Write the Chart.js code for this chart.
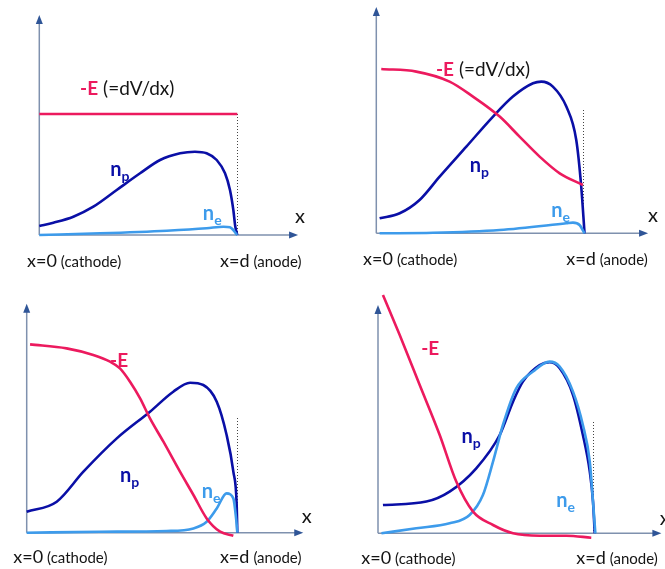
<!DOCTYPE html>
<html>
<head>
<meta charset="utf-8">
<script src="https://cdn.jsdelivr.net/npm/chart.js@4/dist/chart.umd.min.js"></script>
<style>
  html, body { margin: 0; padding: 0; background: #fff; }
  body { width: 665px; height: 569px; position: relative; overflow: hidden; }
  canvas { position: absolute; }
</style>
</head>
<body>
<canvas id="c1"></canvas>
<canvas id="c2"></canvas>
<canvas id="c3"></canvas>
<canvas id="c4"></canvas>
<script>
// ---------------- DATA (x in units of d, y in arbitrary relative units) ----------------
// Panel 1 (top-left): uniform field
const p1_E_x  = [0, 1];
const p1_E_y  = [1.21, 1.21];
const p1_np_x = [0, 0.071, 0.172, 0.273, 0.391, 0.509, 0.610, 0.711, 0.786, 0.845, 0.896, 0.938, 0.963, 0.980, 0.990, 1.0];
const p1_np_y = [0.09, 0.123, 0.183, 0.283, 0.45, 0.617, 0.75, 0.817, 0.833, 0.817, 0.75, 0.617, 0.45, 0.25, 0.083, 0];
const p1_ne_x = [0, 0.307, 0.644, 0.845, 0.930, 0.963, 0.980, 0.995, 1.0];
const p1_ne_y = [0, 0.017, 0.043, 0.067, 0.083, 0.077, 0.05, 0.01, 0];

// Panel 2 (top-right)
const p2_E_x  = [0.024, 0.193, 0.354, 0.467, 0.596, 0.692, 0.789, 0.886, 0.998];
const p2_E_y  = [1.643, 1.617, 1.517, 1.367, 1.167, 0.967, 0.767, 0.60, 0.483];
const p2_np_x = [0.016, 0.113, 0.209, 0.306, 0.435, 0.564, 0.660, 0.757, 0.797, 0.853, 0.918, 0.966, 0.990, 1.006];
const p2_np_y = [0.15, 0.20, 0.333, 0.567, 0.867, 1.167, 1.367, 1.50, 1.517, 1.467, 1.267, 0.933, 0.467, 0];
const p2_ne_x = [0.016, 0.274, 0.596, 0.918, 0.950, 0.982, 1.006];
const p2_ne_y = [0, 0.005, 0.033, 0.10, 0.107, 0.083, 0];

// Panel 3 (bottom-left)
const p3_E_x  = [0.016, 0.190, 0.317, 0.397, 0.444, 0.492, 0.540, 0.587, 0.651, 0.730, 0.794, 0.857, 0.921, 0.984];
const p3_E_y  = [1.883, 1.843, 1.777, 1.71, 1.643, 1.51, 1.343, 1.143, 0.91, 0.61, 0.377, 0.143, 0.01, -0.03];
const p3_np_x = [0, 0.143, 0.270, 0.429, 0.587, 0.698, 0.778, 0.841, 0.905, 0.952, 0.984, 1.0, 1.003];
const p3_np_y = [0.21, 0.31, 0.61, 0.943, 1.21, 1.41, 1.50, 1.477, 1.31, 0.977, 0.61, 0.277, 0];
const p3_ne_x = [0, 0.349, 0.667, 0.794, 0.857, 0.905, 0.952, 0.984, 0.997, 1.003];
const p3_ne_y = [0, 0.01, 0.017, 0.043, 0.11, 0.243, 0.393, 0.343, 0.143, 0];

// Panel 4 (bottom-right)
const p4_E_x  = [0.023, 0.101, 0.194, 0.287, 0.364, 0.442, 0.535, 0.628, 0.752, 0.876, 0.992];
const p4_E_y  = [2.383, 1.983, 1.483, 0.983, 0.517, 0.217, 0.083, 0.0, -0.024, -0.024, -0.044];
const p4_np_x = [0.023, 0.225, 0.333, 0.457, 0.566, 0.628, 0.674, 0.752, 0.798, 0.845, 0.907, 0.953, 0.985, 1.0, 1.008];
const p4_np_y = [0.283, 0.317, 0.417, 0.65, 0.983, 1.317, 1.517, 1.683, 1.71, 1.65, 1.383, 0.983, 0.617, 0.317, 0];
const p4_ne_x = [0.016, 0.178, 0.333, 0.426, 0.488, 0.535, 0.581, 0.643, 0.721, 0.798, 0.845, 0.907, 0.953, 0.985, 1.0, 1.011];
const p4_ne_y = [0, 0.05, 0.10, 0.183, 0.383, 0.717, 1.083, 1.45, 1.617, 1.717, 1.667, 1.417, 1.083, 0.717, 0.317, 0];

// Text
const xAxisName = 'x';
const cathodeMain = 'x=0', cathodeSub = '(cathode)';
const anodeMain = 'x=d', anodeSub = '(anode)';
const eLabel = '-E', eNote = '(=dV/dx)';

// ---------------- STYLE ----------------
const RED = '#EC1A5E', DARK = '#0A0FA6', LIGHT = '#3D9BEB', TEXT = '#141414';
const AXIS = '#7F91AE', ARROW = '#2F5597';
const FAM = 'Lato, "Open Sans", sans-serif';

function pts(xs, ys) { return xs.map((x, i) => ({ x: x, y: ys[i] })); }

function drawParts(ctx, px, py, parts) {
  let cx = px;
  ctx.textBaseline = 'alphabetic';
  ctx.textAlign = 'left';
  for (const p of parts) {
    ctx.font = p.font;
    ctx.fillStyle = p.color;
    ctx.fillText(p.text, cx, py + (p.dy || 0));
    cx += ctx.measureText(p.text).width + (p.gap || 0);
  }
}

const decor = {
  id: 'decor',
  beforeDatasetsDraw(chart) {
    const o = chart.options.plugins.decor;
    const xs = chart.scales.x, ys = chart.scales.y, ctx = chart.ctx;
    const X = v => xs.getPixelForValue(v), Y = v => ys.getPixelForValue(v);
    ctx.save();
    // dotted anode line
    ctx.strokeStyle = '#444';
    ctx.lineWidth = 1;
    ctx.setLineDash([1, 2]);
    ctx.beginPath();
    ctx.moveTo(Math.round(X(1)) + 0.5, Y(o.dotTop));
    ctx.lineTo(Math.round(X(1)) + 0.5, Y(0));
    ctx.stroke();
    ctx.setLineDash([]);
    // axes
    ctx.strokeStyle = AXIS;
    ctx.lineWidth = 1.5;
    const x0 = X(0), y0 = Y(0), yt = Y(o.yTop), xe = X(o.xEnd);
    ctx.beginPath();
    ctx.moveTo(x0, y0); ctx.lineTo(x0, yt + 6);
    ctx.moveTo(x0, y0); ctx.lineTo(xe - 6, y0);
    ctx.stroke();
    ctx.fillStyle = ARROW;
    ctx.beginPath();
    ctx.moveTo(x0, yt); ctx.lineTo(x0 - 3.5, yt + 9); ctx.lineTo(x0 + 3.5, yt + 9); ctx.closePath();
    ctx.fill();
    ctx.beginPath();
    ctx.moveTo(xe, y0); ctx.lineTo(xe - 9, y0 - 3.5); ctx.lineTo(xe - 9, y0 + 3.5); ctx.closePath();
    ctx.fill();
    ctx.restore();
  },
  afterDatasetsDraw(chart) {
    const o = chart.options.plugins.decor;
    const xs = chart.scales.x, ys = chart.scales.y, ctx = chart.ctx;
    ctx.save();
    for (const l of o.labels) {
      drawParts(ctx, xs.getPixelForValue(l.x), ys.getPixelForValue(l.y), l.parts);
    }
    ctx.restore();
  }
};

function nLabel(sub, color) {
  return [
    { text: 'n', font: 'bold 20px ' + FAM, color: color },
    { text: sub, font: 'bold 14px ' + FAM, color: color, dy: 5 }
  ];
}
function bottomLabel(main, sub) {
  return [
    { text: main, font: '18px ' + FAM, color: TEXT, gap: 4 },
    { text: sub, font: '15px ' + FAM, color: TEXT }
  ];
}

const panels = [
  { id: 'c1', L: 0, T: 0, W: 333, H: 285, ox: 39.3, oy: 235, dx: 198, yTop: 2.2, xEnd: 1.307, dotTop: 1.21,
    E: [p1_E_x, p1_E_y], np: [p1_np_x, p1_np_y], ne: [p1_ne_x, p1_ne_y],
    labels: [
      { x: 0.206, y: 1.40, parts: [{ text: eLabel, font: 'bold 19px ' + FAM, color: RED, gap: 5 }, { text: eNote, font: '19px ' + FAM, color: TEXT }] },
      { x: 0.358, y: 0.59, parts: nLabel('p', DARK) },
      { x: 0.826, y: 0.15, parts: nLabel('e', LIGHT) },
      { x: 1.291, y: 0.12, parts: [{ text: xAxisName, font: '20px ' + FAM, color: TEXT }] },
      { x: -0.062, y: -0.32, parts: bottomLabel(cathodeMain, cathodeSub) },
      { x: 0.913, y: -0.32, parts: bottomLabel(anodeMain, anodeSub) }
    ] },
  { id: 'c2', L: 333, T: 0, W: 332, H: 285, ox: 376.3, oy: 233.3, dx: 207, yTop: 2.263, xEnd: 1.313, dotTop: 1.233,
    E: [p2_E_x, p2_E_y], np: [p2_np_x, p2_np_y], ne: [p2_ne_x, p2_ne_y],
    labels: [
      { x: 0.288, y: 1.573, parts: [{ text: eLabel, font: 'bold 19px ' + FAM, color: RED, gap: 5 }, { text: eNote, font: '19px ' + FAM, color: TEXT }] },
      { x: 0.451, y: 0.616, parts: nLabel('p', DARK) },
      { x: 0.845, y: 0.166, parts: nLabel('e', LIGHT) },
      { x: 1.313, y: 0.116, parts: [{ text: xAxisName, font: '20px ' + FAM, color: TEXT }] },
      { x: -0.064, y: -0.317, parts: bottomLabel(cathodeMain, cathodeSub) },
      { x: 0.918, y: -0.317, parts: bottomLabel(anodeMain, anodeSub) }
    ] },
  { id: 'c3', L: 0, T: 285, W: 333, H: 284, ox: 26.7, oy: 532.7, dx: 210, yTop: 2.29, xEnd: 1.317, dotTop: 1.147,
    E: [p3_E_x, p3_E_y], np: [p3_np_x, p3_np_y], ne: [p3_ne_x, p3_ne_y],
    labels: [
      { x: 0.397, y: 1.66, parts: [{ text: eLabel, font: 'bold 19px ' + FAM, color: RED }] },
      { x: 0.444, y: 0.51, parts: nLabel('p', DARK) },
      { x: 0.833, y: 0.344, parts: nLabel('e', LIGHT) },
      { x: 1.31, y: 0.094, parts: [{ text: xAxisName, font: '20px ' + FAM, color: TEXT }] },
      { x: -0.064, y: -0.306, parts: bottomLabel(cathodeMain, cathodeSub) },
      { x: 0.920, y: -0.306, parts: bottomLabel(anodeMain, anodeSub) }
    ] },
  { id: 'c4', L: 333, T: 285, W: 332, H: 284, ox: 378, oy: 533.3, dx: 215, yTop: 2.283, xEnd: 1.318, dotTop: 1.113,
    E: [p4_E_x, p4_E_y], np: [p4_np_x, p4_np_y], ne: [p4_ne_x, p4_ne_y],
    labels: [
      { x: 0.201, y: 1.783, parts: [{ text: eLabel, font: 'bold 19px ' + FAM, color: RED }] },
      { x: 0.388, y: 0.90, parts: nLabel('p', DARK) },
      { x: 0.829, y: 0.266, parts: nLabel('e', LIGHT) },
      { x: 1.31, y: 0.083, parts: [{ text: xAxisName, font: '20px ' + FAM, color: TEXT }] },
      { x: -0.078, y: -0.31, parts: bottomLabel(cathodeMain, cathodeSub) },
      { x: 0.922, y: -0.31, parts: bottomLabel(anodeMain, anodeSub) }
    ] }
];

function ds(pair, color) {
  return {
    data: pts(pair[0], pair[1]),
    borderColor: color,
    borderWidth: 2.6,
    pointRadius: 0,
    fill: false,
    cubicInterpolationMode: 'monotone',
    clip: false
  };
}

for (const p of panels) {
  const cv = document.getElementById(p.id);
  cv.width = p.W; cv.height = p.H;
  cv.style.left = p.L + 'px'; cv.style.top = p.T + 'px';
  cv.style.width = p.W + 'px'; cv.style.height = p.H + 'px';
  new Chart(cv, {
    type: 'line',
    data: { datasets: [ds(p.E, RED), ds(p.ne, LIGHT), ds(p.np, DARK)] },
    options: {
      responsive: false,
      animation: false,
      devicePixelRatio: 1,
      layout: { padding: 0 },
      events: [],
      scales: {
        x: { type: 'linear', display: false, min: (p.L - p.ox) / p.dx, max: (p.L + p.W - p.ox) / p.dx },
        y: { type: 'linear', display: false, min: (p.oy - (p.T + p.H)) / 100, max: (p.oy - p.T) / 100 }
      },
      plugins: {
        legend: { display: false },
        tooltip: { enabled: false },
        decor: { yTop: p.yTop, xEnd: p.xEnd, dotTop: p.dotTop, labels: p.labels }
      }
    },
    plugins: [decor]
  });
}
</script>
</body>
</html>
